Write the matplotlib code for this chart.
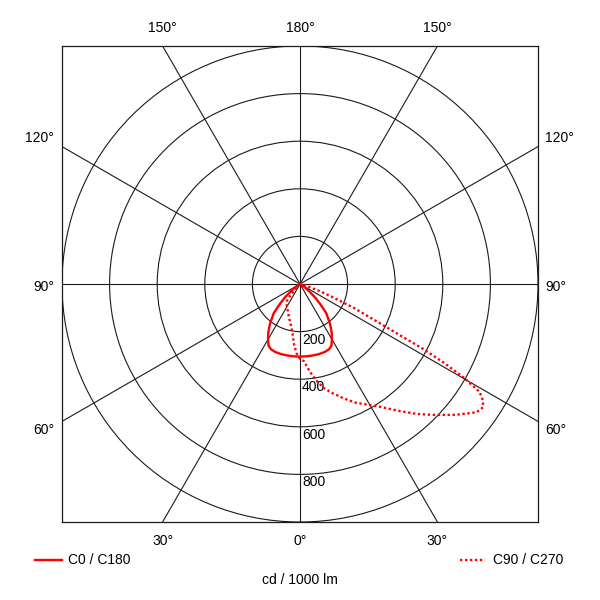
import numpy as np
import matplotlib
matplotlib.use("Agg")
import matplotlib.pyplot as plt
from matplotlib.patches import Circle
from matplotlib.lines import Line2D

plt.rcParams['font.family'] = ['Liberation Sans', 'DejaVu Sans']

# ---- data (cd / 1000 lm), gamma in degrees from nadir ----
c0_gamma = [0, 5, 10, 15, 20, 24, 27, 30, 33, 37, 40, 42, 45, 48, 50, 53, 56, 60, 70, 90]
c0_int = [305, 305, 305, 305, 304, 300, 291, 268, 245, 210, 180, 165, 122, 88, 62, 36, 18, 8, 2, 0]

c90_gamma = [0, 3, 6, 9, 13, 17, 21, 25, 29, 33, 38, 42, 46, 50, 54, 56, 57.5, 59, 60.3,
             61.3, 62.2, 63, 64, 66, 68, 70, 72, 76, 80, 90]
c90_int = [315, 325, 365, 405, 450, 482, 515, 550, 579, 615, 677, 735, 792, 855, 917, 927,
           912, 880, 789, 690, 585, 456, 360, 250, 150, 95, 40, 18, 8, 0]

c270_gamma = [0, 3, 6, 9, 12, 16, 20, 24, 28, 32, 36, 38, 40, 42, 45, 50, 60, 90]
c270_int = [315, 290, 250, 205, 180, 158, 140, 125, 115, 105, 96, 88, 60, 35, 15, 5, 1, 0]

ring_values = [200, 400, 600, 800, 1000]
ring_labels = ["200", "400", "600", "800"]
spoke_angles = [0, 30, 60, 90, 120, 150]
top_labels = ["150°", "180°", "150°"]
bottom_labels = ["30°", "0°", "30°"]
side_labels = ["120°", "90°", "60°"]
legend_labels = ["C0 / C180", "C90 / C270"]
unit_label = "cd / 1000 lm"

RMAX = 1000
RED = "#ff0000"
GRID = "#1a1a1a"

fig = plt.figure(figsize=(6, 6), dpi=100)
pos = [62 / 600, 78 / 600, 476 / 600, 476 / 600]
ax = fig.add_axes(pos)
ax.set_xlim(-RMAX, RMAX)
ax.set_ylim(-RMAX, RMAX)
ax.set_aspect('equal')
ax.set_xticks([])
ax.set_yticks([])
for s in ax.spines.values():
    s.set_linewidth(0.9)
    s.set_color(GRID)

# rings
for r in ring_values:
    ax.add_patch(Circle((0, 0), r, fill=False, lw=0.8, ec=GRID, zorder=1))
# spokes
for a in spoke_angles:
    t = np.radians(a)
    L = 2 * RMAX
    ax.plot([-L * np.sin(t), L * np.sin(t)], [-L * np.cos(t), L * np.cos(t)],
            color=GRID, lw=0.8, zorder=1)

px = RMAX / 238.0
# ring labels
for r, lab in zip(ring_values, ring_labels):
    ax.text(2 * px, -r - 8 * px, lab, ha='left', va='center', fontsize=10, zorder=3)

# angle labels
t30 = RMAX * np.tan(np.radians(30))
for xv, lab in zip([-t30, 0, t30], top_labels):
    ax.text(xv, RMAX + 18 * px, lab, ha='center', va='center', fontsize=10, clip_on=False)
for xv, lab in zip([-t30, 0, t30], bottom_labels):
    ax.text(xv, -RMAX - 19 * px, lab, ha='center', va='center', fontsize=10, clip_on=False)
for yv, lab in zip([t30 + 9 * px, -3 * px, -t30 - 9 * px], side_labels):
    ax.text(-RMAX - 8 * px, yv, lab, ha='right', va='center', fontsize=10, clip_on=False)
    ax.text(RMAX + 7 * px, yv, lab, ha='left', va='center', fontsize=10, clip_on=False)

# polar overlay for curves
pax = fig.add_axes(pos, projection='polar')
pax.set_theta_zero_location('S')
pax.set_theta_direction(1)
pax.set_ylim(0, RMAX)
pax.patch.set_alpha(0)
pax.axis('off')

g0 = np.radians(c0_gamma)
th_c0 = np.concatenate([-g0[::-1], g0[1:]])
r_c0 = np.concatenate([np.array(c0_int)[::-1], np.array(c0_int)[1:]])
pax.plot(th_c0, r_c0, color=RED, lw=1.7, solid_joinstyle='round', zorder=5)

th_c90 = np.concatenate([-np.radians(c270_gamma)[::-1], np.radians(c90_gamma)[1:]])
r_c90 = np.concatenate([np.array(c270_int)[::-1], np.array(c90_int)[1:]])
pax.plot(th_c90, r_c90, color=RED, lw=1.7, linestyle=(0, (1, 1.1)), zorder=5)

# legend & unit label
fig.add_artist(Line2D([35 / 600, 62 / 600], [1 - 560 / 600] * 2, color=RED, lw=1.7,
                      transform=fig.transFigure))
fig.text(68 / 600, 1 - 560 / 600, legend_labels[0], ha='left', va='center', fontsize=10)
fig.add_artist(Line2D([460 / 600, 485 / 600], [1 - 560 / 600] * 2, color=RED, lw=1.7,
                      linestyle=(0, (1, 1.1)), transform=fig.transFigure))
fig.text(493 / 600, 1 - 560 / 600, legend_labels[1], ha='left', va='center', fontsize=10)
fig.text(0.5, 1 - 580 / 600, unit_label, ha='center', va='center', fontsize=10)

fig.savefig("out.png", dpi=100, facecolor='white')
